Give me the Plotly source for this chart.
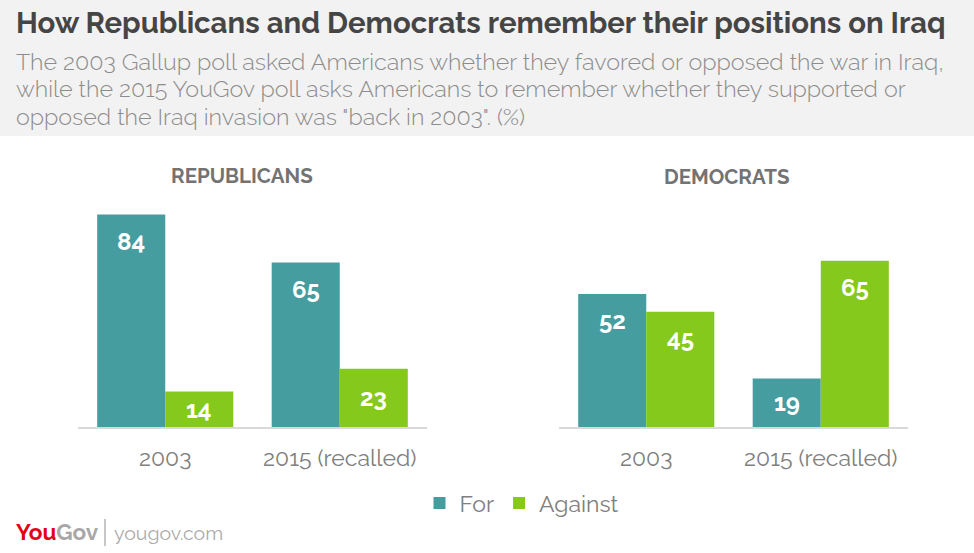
import plotly.graph_objects as go

categories = ["2003", "2015 (recalled)"]
series_names = ["For", "Against"]
rep_for = [84, 65]
rep_against = [14, 23]
dem_for = [52, 19]
dem_against = [45, 65]
panel_titles = ["REPUBLICANS", "DEMOCRATS"]
subtitle_lines = [
    "The 2003 Gallup poll asked Americans whether they favored or opposed the war in Iraq,",
    "while the 2015 YouGov poll asks Americans to remember whether they supported or",
    "opposed the Iraq invasion was \"back in 2003\". (%)",
]

TEAL = "#469da0"
GREEN = "#85c91c"
W, H = 974, 553
FONT = "Raleway, Lato, sans-serif"
LIGHT_FONT = "Raleway, 'Lato Light', Lato, sans-serif"
BARGAP = 0.22


def px_x(p):
    return p / W


def px_y(p):
    return 1 - p / H


fig = go.Figure()
panels = [
    ("x", "y", rep_for, rep_against, True),
    ("x2", "y2", dem_for, dem_against, False),
]
for xa, ya, f, a, show in panels:
    for name, vals, col in ((series_names[0], f, TEAL), (series_names[1], a, GREEN)):
        fig.add_trace(go.Bar(
            x=categories, y=vals, name=name, marker=dict(color=col, line=dict(width=0)),
            xaxis=xa, yaxis=ya, showlegend=show, legendgroup=name, hoverinfo="skip",
        ))

# value labels
bar_w = (1 - BARGAP) / 2
for xa, ya, f, a, _ in panels:
    for j, vals in enumerate((f, a)):
        off = (j - 0.5) * bar_w
        for i, v in enumerate(vals):
            if v > 30:
                yy, ys = v, -27
            else:
                yy, ys = v / 2, 0
            fig.add_annotation(
                x=i + off, y=yy, xref=xa, yref=ya, text="<b>%d</b>" % v,
                showarrow=False, yshift=ys, yanchor="middle",
                font=dict(color="white", size=24, family=FONT),
            )

ydom = [px_y(427), px_y(427 - 90 * 2.53)]
axis_common = dict(
    showline=True, linecolor="#d9d9d9", linewidth=2, ticks="", showgrid=False,
    zeroline=False, range=[-0.5, 1.5], fixedrange=True,
    tickfont=dict(size=23, color="#808080", family=FONT), ticklabelstandoff=9,
)
fig.update_layout(
    width=W, height=H,
    margin=dict(l=0, r=0, t=0, b=0),
    paper_bgcolor="white", plot_bgcolor="white",
    barmode="group", bargap=BARGAP, bargroupgap=0,
    font=dict(family=FONT, color="#808080"),
    xaxis=dict(domain=[px_x(78), px_x(427)], anchor="y", **axis_common),
    xaxis2=dict(domain=[px_x(559), px_x(908)], anchor="y2", **axis_common),
    yaxis=dict(domain=ydom, range=[0, 90], visible=False, fixedrange=True),
    yaxis2=dict(domain=ydom, range=[0, 89], visible=False, fixedrange=True, anchor="x2"),
    legend=dict(
        orientation="h", x=px_x(522), xanchor="center", y=px_y(503), yanchor="middle",
        font=dict(size=23, color="#808080", family=FONT), bgcolor="rgba(0,0,0,0)",
        itemclick=False, itemdoubleclick=False,
    ),
    showlegend=True,
)

# header background
fig.add_shape(type="rect", xref="paper", yref="paper", x0=0, x1=1, y0=px_y(136), y1=1,
              fillcolor="#f2f2f2", line=dict(width=0), layer="below")

fig.add_annotation(
    xref="paper", yref="paper", x=px_x(14), y=px_y(23), xanchor="left", yanchor="middle",
    text="<b>How Republicans and Democrats remember their positions on Iraq</b>",
    showarrow=False, font=dict(size=29.3, color="#454545", family=FONT),
)
for line, cy in zip(subtitle_lines, (62, 89, 116)):
    fig.add_annotation(
        xref="paper", yref="paper", x=px_x(14), y=px_y(cy), xanchor="left", yanchor="middle",
        align="left", showarrow=False, text=line,
        font=dict(size=23.3, color="#8c8c8c", family=LIGHT_FONT, weight=300),
    )

# panel titles
for t, cx, cy in ((panel_titles[0], 242, 176), (panel_titles[1], 727, 177)):
    fig.add_annotation(
        xref="paper", yref="paper", x=px_x(cx), y=px_y(cy), xanchor="center", yanchor="middle",
        text="<b>%s</b>" % t, showarrow=False, font=dict(size=20.5, color="#737373", family=FONT),
    )

# footer
fig.add_annotation(
    xref="paper", yref="paper", x=px_x(14), y=px_y(532), xanchor="left", yanchor="middle",
    text="<b><span style='color:#e3001b'>You</span><span style='color:#a8a8a8'>Gov</span></b>",
    showarrow=False, font=dict(size=22.5, family=FONT),
)
fig.add_shape(type="line", xref="paper", yref="paper", x0=px_x(105), x1=px_x(105),
              y0=px_y(519), y1=px_y(546), line=dict(color="#b5b5b5", width=1.5))
fig.add_annotation(
    xref="paper", yref="paper", x=px_x(112), y=px_y(533), xanchor="left", yanchor="middle",
    text="yougov.com", showarrow=False, font=dict(size=19.5, color="#ababab", family=FONT),
)

fig.write_html("out.html", config={"displayModeBar": False},
               post_script="document.body.style.margin='0';")
